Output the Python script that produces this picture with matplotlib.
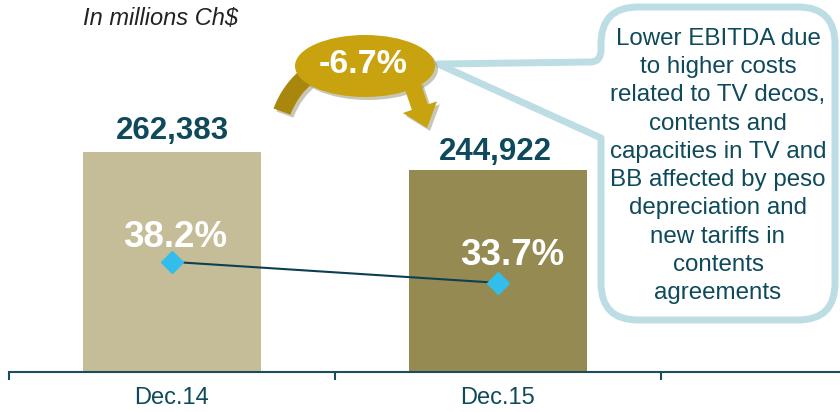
import matplotlib
matplotlib.use("Agg")
import matplotlib.pyplot as plt
from matplotlib.patches import Ellipse, Wedge, FancyArrow, PathPatch
from matplotlib.path import Path

plt.rcParams["font.family"] = ["Liberation Sans", "DejaVu Sans"]

# ---- data -----------------------------------------------------------------
periods = ["Dec.14", "Dec.15"]
ebitda = [262383, 244922]          # millions Ch$
margin = [38.2, 33.7]              # EBITDA margin, %
change_label = "-6.7%"
unit_label = "In millions Ch$"
note = ("Lower EBITDA due\nto higher costs\nrelated to TV decos,\ncontents and\n"
        "capacities in TV and\nBB affected by peso\ndepreciation and\nnew tariffs in\n"
        "contents\nagreements")

# ---- style ----------------------------------------------------------------
C_BAR = ["#c5bd98", "#948a52"]
C_TXT = "#0e4a5c"
C_AXIS = "#1b4d5c"
C_LINE = "#0d3f52"
C_MARK = "#33bdeb"
C_GOLD, C_GOLD_DK, C_SHADOW = "#c9a30f", "#a8870c", "#9c9a7a"
C_BOX = "#bddde5"

W, H = 840, 412
fig = plt.figure(figsize=(W / 100, H / 100), dpi=100)

# main bar axes (axis line at pixel row 372, starts at x=9)
ax = fig.add_axes([9 / W, 40 / H, 831 / W, 372 / H])
x = list(range(len(periods)))
ax.bar(x, ebitda, width=0.543, color=C_BAR, zorder=2)
ax.set_xlim(-0.5, -0.5 + 831 / 326)
ax.set_ylim(49000, 409800)
for s in ("top", "left", "right"):
    ax.spines[s].set_visible(False)
ax.spines["bottom"].set_color(C_AXIS)
ax.spines["bottom"].set_linewidth(1.5)
ax.set_yticks([])
ax.set_xticks([-0.5, 0.5, 1.5])
ax.set_xticklabels([])
ax.tick_params(axis="x", which="major", length=6, width=1.5, color=C_AXIS, direction="out")
ax.set_xticks(x, minor=True)
ax.set_xticklabels(periods, minor=True)
ax.tick_params(axis="x", which="minor", length=0, pad=11, labelsize=17, labelcolor=C_TXT)

val_offsets = [(0, 9), (-2, 7)]
for xi, v, off in zip(x, ebitda, val_offsets):
    ax.annotate(f"{v:,}", (xi, v), xytext=off, textcoords="offset points",
                ha="center", va="baseline", fontsize=22.5, fontweight="bold", color=C_TXT)

# margin line on secondary axis
ax2 = ax.twinx()
ax2.set_ylim(14.6, 94.3)
ax2.axis("off")
ax2.plot(x, margin, color=C_LINE, lw=1.5, zorder=3)
ax2.plot(x, margin, ls="none", marker="D", ms=11.5, color=C_MARK, zorder=4)
pct_offsets = [(2, 11), (10.5, 13)]
for xi, m, off in zip(x, margin, pct_offsets):
    ax2.annotate(f"{m}%", (xi, m), xytext=off, textcoords="offset points",
                 ha="center", va="baseline", fontsize=26.5, fontweight="bold", color="white",
                 zorder=5)

fig.text(83 / W, 1 - 25 / H, unit_label, fontsize=17, style="italic", color="#222222",
         va="baseline", ha="left")

# ---- decorations in pixel coordinates ------------------------------------
ov = fig.add_axes([0, 0, 1, 1], zorder=10)
ov.set_xlim(0, W)
ov.set_ylim(H, 0)
ov.axis("off")
ov.patch.set_alpha(0)

# callout box with pointer
L, R, T, B, r = 601, 835, 7, 320, 37
verts = [(L, T + r), (L, T), (L + r, T), (R - r, T), (R, T), (R, T + r),
         (R, B - r), (R, B), (R - r, B), (L + r, B), (L, B), (L, B - r),
         (L, 138), (438, 64), (590, 62), (L, 62), (L, 50), (L, T + r)]
codes = [Path.MOVETO, Path.CURVE3, Path.CURVE3, Path.LINETO, Path.CURVE3, Path.CURVE3,
         Path.LINETO, Path.CURVE3, Path.CURVE3, Path.LINETO, Path.CURVE3, Path.CURVE3,
         Path.LINETO, Path.LINETO, Path.LINETO, Path.CURVE3, Path.CURVE3, Path.CLOSEPOLY]
ov.add_patch(PathPatch(Path(verts, codes), facecolor="white", edgecolor=C_BOX, lw=5,
                       joinstyle="round"))
ov.text(718, 166, note, ha="center", va="center", fontsize=17.4, color=C_TXT,
        linespacing=1.37)

# change badge with curved arrows
for dx, col, a in ((3, C_SHADOW, 0.55), (0, None, 1)):
    ov.add_patch(Wedge((360 + dx, 140 + dx), 92, 200, 265, width=18,
                       color=col or C_GOLD_DK, alpha=a, lw=0))
    ov.add_patch(FancyArrow(412 + dx, 84 + dx, 15, 44, width=17, head_width=36,
                            head_length=22, length_includes_head=True,
                            color=col or C_GOLD, alpha=a, lw=0))
    ov.add_patch(Ellipse((365 + dx, 66 + dx), 140, 62, color=col or C_GOLD, alpha=a, lw=0))
ov.text(363, 64, change_label, ha="center", va="center", fontsize=24.5,
        fontweight="bold", color="white")

fig.savefig("out.png", dpi=100)
